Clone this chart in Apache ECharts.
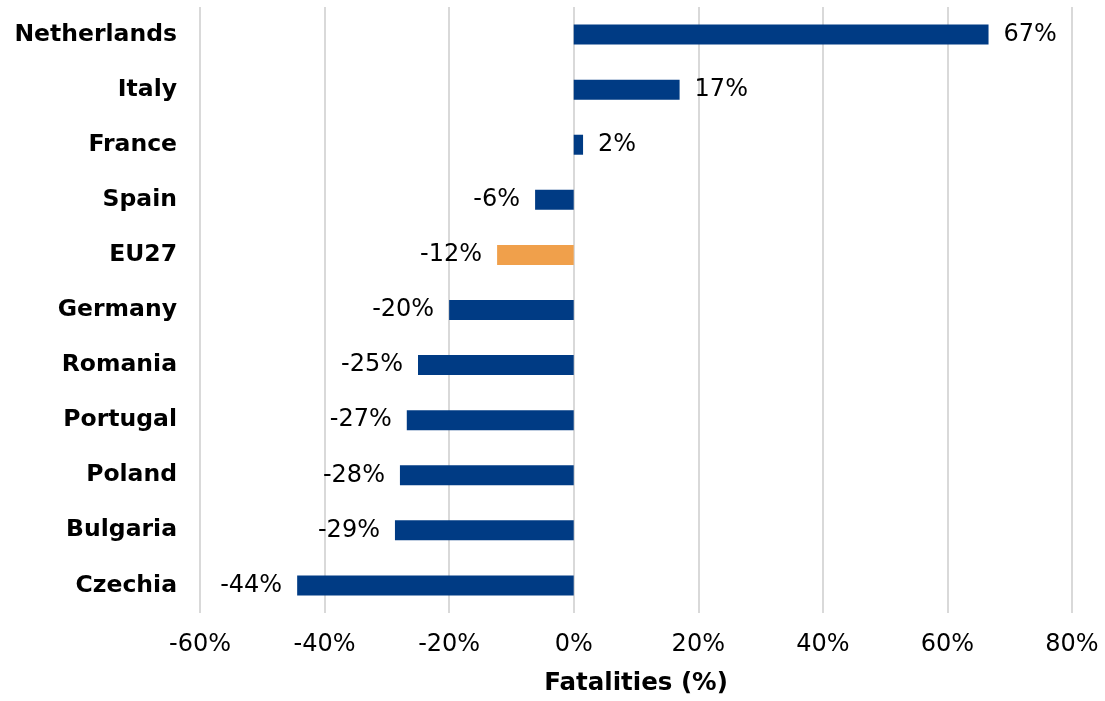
<!DOCTYPE html>
<html>
<head>
<meta charset="utf-8">
<script src="https://cdn.jsdelivr.net/npm/echarts@6/dist/echarts.min.js"></script>
<style>html,body{margin:0;padding:0;background:#fff;overflow:hidden}#c{width:1105px;height:701px}</style>
</head>
<body>
<div id="c"></div>
<script>
// Categories listed bottom to top (ECharts category axis draws first at bottom)
const categories = ['Czechia','Bulgaria','Poland','Portugal','Romania','Germany','EU27','Spain','France','Italy','Netherlands'];
const values = [-44.4, -28.7, -27.9, -26.8, -25.0, -20.0, -12.3, -6.2, 1.5, 17.0, 66.6];
const highlight = 'EU27';
const xTicks = {min: -60, max: 80, interval: 20};

const blue = '#003B84', orange = '#F0A04B';
const font = 'DejaVu Sans, Verdana, sans-serif';

const data = values.map((v, i) => ({
  value: v,
  itemStyle: {color: categories[i] === highlight ? orange : blue},
  label: {position: v >= 0 ? 'right' : 'left'}
}));

const chart = echarts.init(document.getElementById('c'));
chart.setOption({
  animation: false,
  grid: {left: 200, right: 33, top: 7, bottom: 83, containLabel: false},
  xAxis: {
    type: 'value', min: xTicks.min, max: xTicks.max, interval: xTicks.interval,
    axisLine: {show: false}, axisTick: {show: false},
    splitLine: {show: true, lineStyle: {color: '#d9d9d9', width: 2}},
    axisLabel: {formatter: v => v + '%', fontFamily: font, fontSize: 24, color: '#000', margin: 20},
    name: 'Fatalities (%)', nameLocation: 'middle', nameGap: 58,
    nameTextStyle: {fontFamily: font, fontSize: 24.5, fontWeight: 'bold', color: '#000'}
  },
  yAxis: {
    type: 'category', data: categories,
    axisLine: {show: false}, axisTick: {show: false},
    axisLabel: {fontFamily: font, fontSize: 23.5, fontWeight: 'bold', color: '#000', margin: 23}
  },
  series: [{
    type: 'bar', data: data, barWidth: 20,
    label: {show: true, distance: 15, formatter: p => Math.round(p.value) + '%',
      fontFamily: font, fontSize: 24, color: '#000'}
  }]
});
</script>
</body>
</html>
